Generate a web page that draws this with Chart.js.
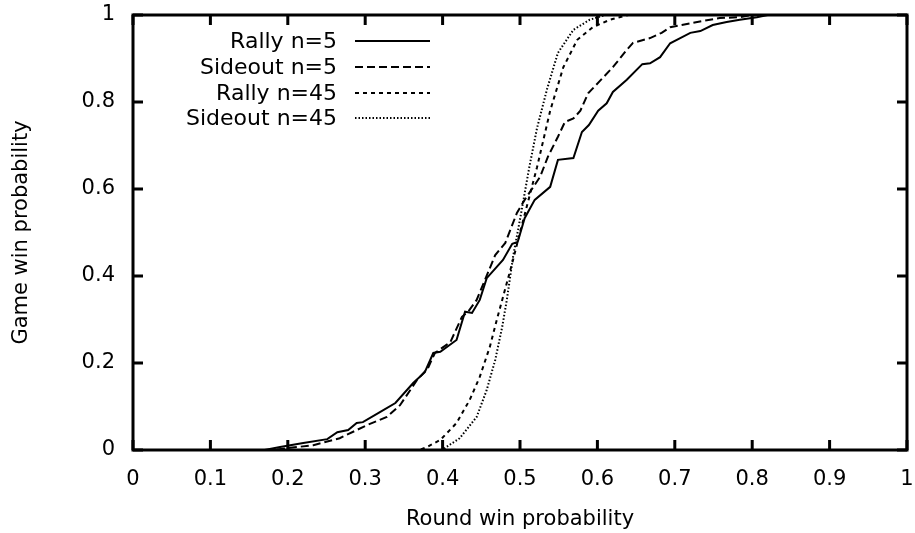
<!DOCTYPE html>
<html>
<head>
<meta charset="utf-8">
<script src="https://cdn.jsdelivr.net/npm/chart.js@4.4.1/dist/chart.umd.min.js"></script>
<style>
  html, body { margin: 0; padding: 0; background: #fff; }
  #wrap { width: 915px; height: 533px; }
</style>
</head>
<body>
<div id="wrap"><canvas id="winChart"></canvas></div>
<script>
// --- data ---
const rally5X = [0, 0.17, 0.19, 0.22, 0.251, 0.264, 0.278, 0.289, 0.297, 0.319, 0.339, 0.362, 0.377, 0.388, 0.397, 0.418, 0.429, 0.438, 0.448, 0.457, 0.478, 0.49, 0.497, 0.506, 0.519, 0.539, 0.549, 0.569, 0.58, 0.589, 0.601, 0.612, 0.62, 0.638, 0.658, 0.668, 0.681, 0.694, 0.707, 0.72, 0.733, 0.749, 0.767, 0.784, 0.806, 0.82, 1];
const rally5Y = [0, 0, 0.007, 0.016, 0.025, 0.041, 0.046, 0.062, 0.064, 0.087, 0.108, 0.154, 0.179, 0.223, 0.226, 0.253, 0.318, 0.315, 0.345, 0.395, 0.437, 0.474, 0.478, 0.533, 0.575, 0.605, 0.667, 0.671, 0.731, 0.747, 0.78, 0.797, 0.823, 0.851, 0.887, 0.889, 0.903, 0.935, 0.947, 0.959, 0.963, 0.977, 0.984, 0.989, 0.995, 1, 1];

const sideout5X = [0, 0.18, 0.203, 0.233, 0.267, 0.302, 0.328, 0.345, 0.367, 0.381, 0.39, 0.41, 0.425, 0.433, 0.444, 0.468, 0.481, 0.496, 0.506, 0.526, 0.536, 0.549, 0.558, 0.569, 0.578, 0.588, 0.603, 0.62, 0.638, 0.646, 0.668, 0.683, 0.694, 0.709, 0.729, 0.758, 0.784, 0.8, 1];
const sideout5Y = [0, 0, 0.005, 0.011, 0.027, 0.057, 0.076, 0.103, 0.161, 0.188, 0.223, 0.248, 0.306, 0.318, 0.345, 0.448, 0.476, 0.545, 0.575, 0.628, 0.674, 0.72, 0.754, 0.762, 0.78, 0.82, 0.848, 0.88, 0.92, 0.936, 0.947, 0.959, 0.972, 0.977, 0.984, 0.993, 0.995, 1, 1];

const rally45X = [0, 0.37, 0.38, 0.397, 0.418, 0.435, 0.448, 0.461, 0.47, 0.477, 0.49, 0.5, 0.511, 0.522, 0.539, 0.556, 0.574, 0.594, 0.616, 0.64, 1];
const rally45Y = [0, 0, 0.007, 0.023, 0.062, 0.115, 0.168, 0.237, 0.299, 0.345, 0.43, 0.5, 0.575, 0.65, 0.78, 0.88, 0.943, 0.972, 0.989, 1, 1];

const sideout45X = [0, 0.4, 0.405, 0.422, 0.444, 0.457, 0.468, 0.477, 0.483, 0.491, 0.5, 0.512, 0.522, 0.535, 0.549, 0.569, 0.59, 0.61, 1];
const sideout45Y = [0, 0, 0.007, 0.027, 0.076, 0.138, 0.207, 0.283, 0.345, 0.444, 0.53, 0.65, 0.74, 0.83, 0.913, 0.966, 0.989, 1, 1];

const seriesNames = ['Rally n=5', 'Sideout n=5', 'Rally n=45', 'Sideout n=45'];
const xTicks = [0, 0.1, 0.2, 0.3, 0.4, 0.5, 0.6, 0.7, 0.8, 0.9, 1];
const yTicks = [0, 0.2, 0.4, 0.6, 0.8, 1];

const FONT = 'DejaVu Sans';

function toPoints(xs, ys) {
    return xs.map((x, i) => ({ x: x, y: ys[i] }));
}

const dashes = [[], [8, 4], [4, 4], [1.5, 2]];

const datasets = [
    toPoints(rally5X, rally5Y),
    toPoints(sideout5X, sideout5Y),
    toPoints(rally45X, rally45Y),
    toPoints(sideout45X, sideout45Y)
].map((pts, i) => ({
    label: seriesNames[i],
    data: pts,
    borderColor: '#000',
    borderWidth: 2,
    borderDash: dashes[i],
    pointRadius: 0,
    tension: 0,
    fill: false,
    clip: 4
}));

// bỏ phần đệm tự động cho nhãn ở mép
function noEdgePadding(scale) {
    scale.paddingTop = 0;
    scale.paddingBottom = 0;
    scale.paddingLeft = 0;
    scale.paddingRight = 0;
}

// khung + vạch chia hướng vào trong + chú thích
const framePlugin = {
    id: 'frame',
    afterDraw(chart) {
        const ctx = chart.ctx;
        const a = chart.chartArea;
        const xs = chart.scales.x, ys = chart.scales.y;
        const tl = 10;
        ctx.save();
        ctx.strokeStyle = '#000';
        ctx.lineWidth = 3;
        ctx.setLineDash([]);
        ctx.beginPath();
        xTicks.forEach(v => {
            const px = xs.getPixelForValue(v);
            ctx.moveTo(px, a.bottom); ctx.lineTo(px, a.bottom - tl);
            ctx.moveTo(px, a.top); ctx.lineTo(px, a.top + tl);
        });
        yTicks.forEach(v => {
            const py = ys.getPixelForValue(v);
            ctx.moveTo(a.left, py); ctx.lineTo(a.left + tl, py);
            ctx.moveTo(a.right, py); ctx.lineTo(a.right - tl, py);
        });
        ctx.stroke();
        ctx.strokeRect(a.left, a.top, a.right - a.left, a.bottom - a.top);

        // legend
        ctx.font = '22px "' + FONT + '"';
        ctx.fillStyle = '#000';
        ctx.textAlign = 'right';
        ctx.textBaseline = 'middle';
        const rowY = [41, 67, 93, 118];
        chart.data.datasets.forEach((ds, i) => {
            const y = rowY[i];
            ctx.fillText(ds.label, 337, y + 1);
            ctx.lineWidth = 2;
            ctx.setLineDash(ds.borderDash);
            ctx.beginPath();
            ctx.moveTo(355, y);
            ctx.lineTo(430, y);
            ctx.stroke();
        });
        ctx.restore();
    }
};

new Chart(document.getElementById('winChart'), {
    type: 'line',
    data: { datasets: datasets },
    options: {
        responsive: true,
        maintainAspectRatio: false,
        animation: false,
        layout: { padding: { top: 15, right: 8, left: 0, bottom: 0 } },
        plugins: {
            legend: { display: false },
            tooltip: { enabled: false }
        },
        scales: {
            x: {
                type: 'linear',
                min: 0,
                max: 1,
                afterFit(scale) { scale.height = 83; noEdgePadding(scale); },
                afterBuildTicks(scale) { scale.ticks = xTicks.map(v => ({ value: v })); },
                grid: { display: false, drawTicks: false },
                border: { display: false },
                ticks: {
                    color: '#000',
                    padding: 17,
                    font: { family: FONT, size: 21 },
                    maxRotation: 0,
                    callback: v => String(v)
                },
                title: {
                    display: true,
                    text: 'Round win probability',
                    color: '#000',
                    font: { family: FONT, size: 21 },
                    padding: { top: 0, bottom: 1 }
                }
            },
            y: {
                type: 'linear',
                min: 0,
                max: 1,
                afterFit(scale) { scale.width = 133; noEdgePadding(scale); },
                afterBuildTicks(scale) { scale.ticks = yTicks.map(v => ({ value: v })); },
                grid: { display: false, drawTicks: false },
                border: { display: false },
                ticks: {
                    color: '#000',
                    padding: 18,
                    font: { family: FONT, size: 21 },
                    callback: v => String(v)
                },
                title: {
                    display: true,
                    text: 'Game win probability',
                    color: '#000',
                    font: { family: FONT, size: 21 },
                    padding: { top: 9, bottom: 0 }
                }
            }
        }
    },
    plugins: [framePlugin]
});
</script>
</body>
</html>
